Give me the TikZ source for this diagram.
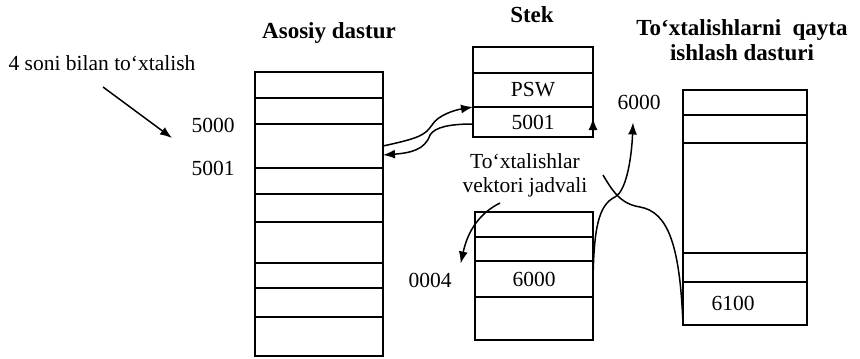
\documentclass[tikz,border=0pt]{standalone}
\usepackage{fontspec}
\setmainfont{Liberation Serif}
\usetikzlibrary{arrows.meta}
\newcommand*{\cellfont}{\fontsize{21.5}{24}\selectfont}
\newcommand*{\titlefont}{\fontsize{23}{25}\selectfont\bfseries}

\begin{document}
\begin{tikzpicture}[x=1pt,y=-1pt,
    cell/.style={draw, line width=1.8pt, inner sep=0pt, outer sep=0pt,
      font=\cellfont},
    sep/.style={line width=2.8pt},
    lbl/.style={font=\cellfont, inner sep=1pt, align=center},
    ttl/.style={font=\titlefont, inner sep=1pt, align=center},
    arr/.style={-{Latex[length=12pt,width=9pt]}, line width=1.5pt},
    con/.style={line width=1.5pt}]
  \useasboundingbox (0,0) rectangle (860,359);
  % titles and labels
  \node[ttl] (tmain) at (329,33) {Asosiy dastur};
  \node[ttl] (tstek) at (532,15) {Stek};
  \node[ttl] (thand) at (742,40) {To‘xtalishlarni\ \ qayta\\ishlash dasturi};
  \node[lbl] (int) at (102,63) {4 soni bilan to‘xtalish};
  \node[lbl] (l5000) at (213,125) {5000};
  \node[lbl] (l5001) at (213,168) {5001};
  \node[lbl] (tvj) at (525,175) {To‘xtalishlar\\vektori jadvali};
  \node[lbl] (l6000) at (639,102) {6000};
  \node[lbl] (l0004) at (430,280) {0004};
  % main program
  \foreach \ya/\yb [count=\i] in {72/98,98/124,124/168,168/194,194/222,
      222/263,263/288,288/317,317/356}{
    \pgfmathsetmacro\h{\yb-\ya}
    \node[cell, minimum width=128pt, minimum height=\h pt] (m\i)
      at (319,{(\ya+\yb)/2}) {};
  }
  % stack
  \foreach \ya/\yb/\lab [count=\i] in {47/73/{},73/107/PSW,107/137/5001}{
    \pgfmathsetmacro\h{\yb-\ya}
    \node[cell, minimum width=120pt, minimum height=\h pt] (s\i)
      at (533,{(\ya+\yb)/2}) {\lab};
  }
  % vector table
  \foreach \ya/\yb/\lab [count=\i] in {212/237/{},237/261/{},261/297/6000,
      297/340/{}}{
    \pgfmathsetmacro\h{\yb-\ya}
    \node[cell, minimum width=118pt, minimum height=\h pt] (v\i)
      at (534,{(\ya+\yb)/2}) {\lab};
  }
  % handler
  \foreach \ya/\yb/\lab [count=\i] in {90/115/{},115/143/{},143/253/{},
      253/282/{},282/325/{\hspace*{-24pt}6100}}{
    \pgfmathsetmacro\h{\yb-\ya}
    \node[cell, minimum width=124pt, minimum height=\h pt] (h\i)
      at (745,{(\ya+\yb)/2}) {\lab};
  }
  % heavier rules
  \draw[sep] (m3.north west) -- (m3.north east);
  \draw[sep] (s3.north west) -- (s3.north east);
  \draw[sep] (v2.north west) -- (v2.north east);
  \draw[sep] (h2.north west) -- (h2.north east);
  \draw[sep] (h4.north west) -- (h4.north east);
  \draw[sep] (h1.north east) -- (h5.south east);
  % connectors
  \coordinate (p1) at (103,87);
  \coordinate (p2) at (172,138);
  \coordinate (q) at (500,203);
  \coordinate (r) at (603,175);
  \draw[arr] (p1) -- (p2);
  \draw[arr] (m3.east) .. controls (420,138) and (425,135) .. (432,125)
    .. controls (438,115) and (455,110) .. (s3.north west);
  \draw[arr] ([yshift=-2pt]s3.west) .. controls (450,124) and (435,127)
    .. (430,135) .. controls (425,150) and (410,153) .. ([yshift=-9pt]m3.east);
  \draw[arr] (s3.south east) -- ([yshift=4pt]s3.east);
  \draw[arr] (q) .. controls (480,213) and (468,230)
    .. ([shift={(8pt,8pt)}]l0004.north east);
  \draw[arr] (v3.east) .. controls (594,230) and (598,205) .. (615,197)
    .. controls (628,190) and (632,150) .. ([shift={(-6pt,-12pt)}]l6000.south);
  \draw[con] (r) .. controls (612,190) and (620,204) .. (640,207)
    .. controls (668,212) and (680,245) .. (h5.south west);
\end{tikzpicture}
\end{document}
